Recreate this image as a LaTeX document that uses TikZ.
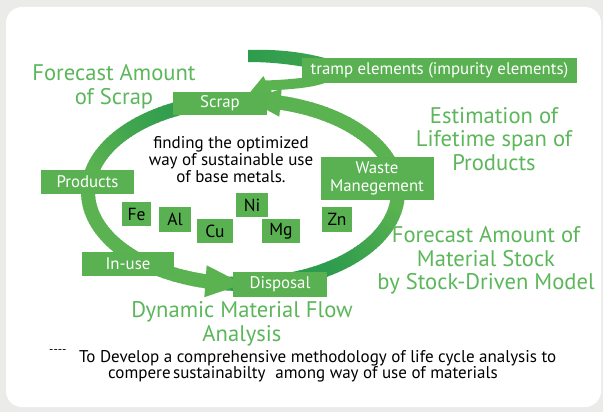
\documentclass[tikz,border=0pt]{standalone}
\usepackage{fontspec}
\setmainfont{PT Sans}
\usetikzlibrary{calc}
\definecolor{bggray}{RGB}{235,235,233}
\definecolor{ringdark}{RGB}{46,156,78}
\definecolor{ringlight}{RGB}{90,178,80}
\definecolor{boxgreen}{RGB}{90,177,82}
\definecolor{txtgreen}{RGB}{92,183,90}
\newcommand\ellpt[1]{({243+155*cos(#1)},{192+92*sin(#1)})}
\newcommand\ringseg[2]{\draw[line width=14pt, draw={ringdark!#2!ringlight}] \ellpt{#1-0.3} -- \ellpt{#1+2.3};}
\tikzset{
  gbox/.style={fill=boxgreen, text=white, inner sep=0pt, align=center,
    font=\fontsize{16.8}{18}\selectfont},
  elbox/.style={fill=boxgreen, text=black, inner sep=0pt,
    font=\fontsize{17.5}{18}\selectfont},
  gtext/.style={text=txtgreen, align=center, inner sep=0pt,
    font=\fontsize{22.6}{23.5}\selectfont},
  btext/.style={text=black, align=center, inner sep=0pt,
    font=\fontsize{17}{17}\selectfont},
}
\begin{document}
\begin{tikzpicture}[x=1pt,y=-1pt]
\fill[bggray] (0,0) rectangle (603,412);
\fill[white, rounded corners=16pt] (6,7) rectangle (601,407);
\useasboundingbox (0,0) rectangle (603,412);

% main ring with colour gradient
\foreach \t in {-30,-28,...,8}{\ringseg{\t}{0}}
\foreach \t in {10,12,...,54}{\pgfmathsetmacro\pct{(\t-10)*100/45}\ringseg{\t}{\pct}}
\foreach \t in {56,58,...,94}{\ringseg{\t}{100}}
\foreach \t in {96,98,...,194}{\ringseg{\t}{0}}
\foreach \t in {196,198,...,244}{\pgfmathsetmacro\pct{(\t-195)*2}\ringseg{\t}{\pct}}
\foreach \t in {246,248,...,272}{\ringseg{\t}{100}}
\foreach \t in {274,276,...,328}{\ringseg{\t}{0}}

% tramp loop
\shade[left color=ringdark, right color=ringdark!60!ringlight]
  (248,50) .. controls (278,49) and (305,52) .. (332,60) -- (332,73)
  .. controls (305,66) and (278,62) .. (248,62) -- cycle;
\draw[ringlight, line width=10pt] (332,66) .. controls (338,80) and (305,84) .. (266,85.5);
\coordinate (tb) at (268,85);
\coordinate (tt) at (247,96);
\fill[ringlight] ($(tb)!10pt!90:(tt)$) -- (tt) -- ($(tb)!10pt!-90:(tt)$) -- cycle;

% ring arrowheads
\path \ellpt{104} coordinate (ab1);
\path \ellpt{90} coordinate (at1);
\fill[ringlight] ($(ab1)!16pt!90:(at1)$) -- (at1) -- ($(ab1)!16pt!-90:(at1)$) -- cycle;
\path \ellpt{284} coordinate (ab2);
\path \ellpt{272} coordinate (at2);
\fill[ringlight] ($(ab2)!14pt!90:(at2)$) -- (at2) -- ($(ab2)!14pt!-90:(at2)$) -- cycle;

% boxes
\node[gbox, minimum width=275pt, minimum height=25pt] (tramp) at (439.5,70.5) {tramp elements (impurity elements)};
\node[gbox, minimum width=94pt, minimum height=23pt] (scrap) at (220,103.5) {Scrap};
\node[gbox, minimum width=93pt, minimum height=24pt] (products) at (87.5,182) {Products};
\node[gbox, minimum width=92pt, minimum height=24pt] (inuse) at (128,264) {In-use};
\node[gbox, minimum width=94pt, minimum height=25pt] (disposal) at (280,284) {Disposal};
\node[gbox, minimum width=113pt, minimum height=43pt] (waste) at (377,178) {Waste\\Manegement};

\node[elbox, minimum width=29pt, minimum height=24pt] (fe) at (136.5,214) {Fe};
\node[elbox, minimum width=32pt, minimum height=25pt] (al) at (175,219.5) {Al};
\node[elbox, minimum width=36pt, minimum height=24pt] (cu) at (215,231) {Cu};
\node[elbox, minimum width=32pt, minimum height=24pt] (ni) at (252,205) {Ni};
\node[elbox, minimum width=38pt, minimum height=24pt] (mg) at (281,231) {Mg};
\node[elbox, minimum width=30pt, minimum height=25pt] (zn) at (337,219.5) {Zn};

% texts
\node[gtext] (fas) at (114,86.5) {Forecast Amount\\of Scrap};
\node[gtext] (est) at (494,139) {Estimation of\\Lifetime span of\\Products};
\node[gtext] (fam) at (486,260.5) {Forecast Amount of\\Material Stock\\by Stock-Driven Model};
\node[gtext] (dmf) at (242,324) {Dynamic Material Flow\\Analysis};
\node[btext] (find) at (231,159.5) {finding the optimized\\way of sustainable use\\of base metals.};

\node[btext, anchor=west] (dev1) at (79,358) {To Develop a comprehensive methodology of life cycle analysis to};
\node[btext, anchor=west] (dev2) at (108,374) {compere\hspace{2.5pt}sustainabilty\hspace{10pt}among way of use of materials};
\node[inner sep=0pt, anchor=west, font=\fontsize{12}{12}\selectfont] (dash) at (49,352) {-{}-{}-{}-};
\end{tikzpicture}
\end{document}
